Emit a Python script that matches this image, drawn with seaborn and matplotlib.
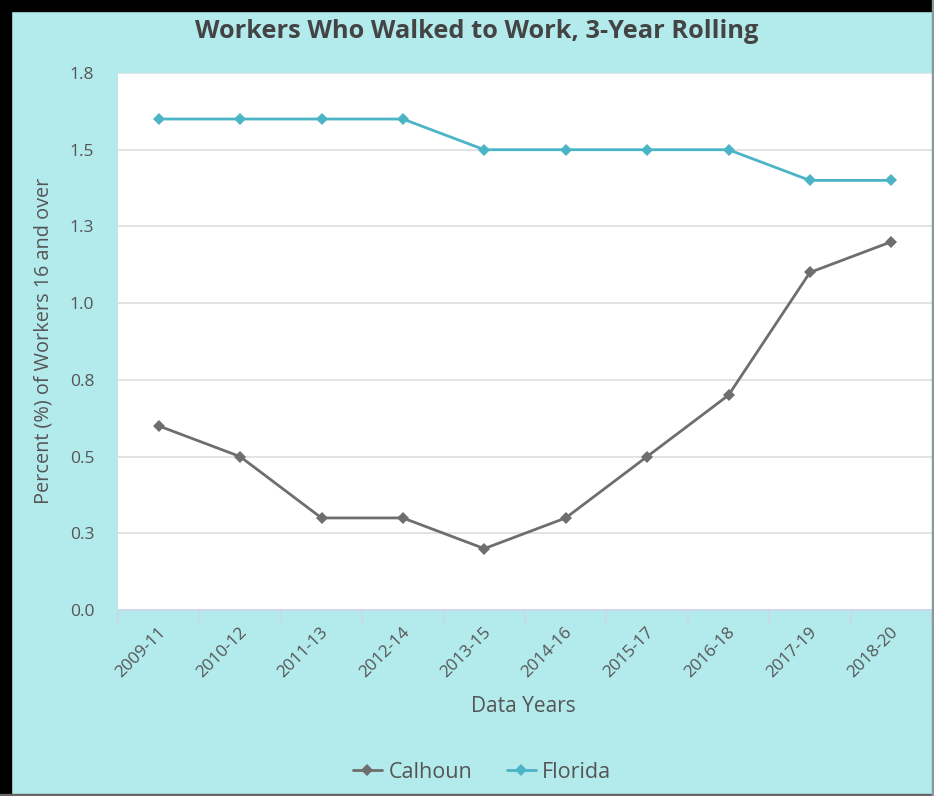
import matplotlib
matplotlib.use("Agg")
import matplotlib.pyplot as plt
from matplotlib.lines import Line2D
import seaborn as sns
import pandas as pd

# Data
years = ["2009-11", "2010-12", "2011-13", "2012-14", "2013-15",
         "2014-16", "2015-17", "2016-18", "2017-19", "2018-20"]
calhoun = [0.6, 0.5, 0.3, 0.3, 0.2, 0.3, 0.5, 0.7, 1.1, 1.2]
florida = [1.6, 1.6, 1.6, 1.6, 1.5, 1.5, 1.5, 1.5, 1.4, 1.4]
y_ticks = [0.0, 0.25, 0.5, 0.75, 1.0, 1.25, 1.5, 1.75]
y_tick_labels = ["0.0", "0.3", "0.5", "0.8", "1.0", "1.3", "1.5", "1.8"]

series_names = ["Calhoun", "Florida"]
colors = {"Calhoun": "#6e6e6e", "Florida": "#4cb4c7"}

df = pd.DataFrame({
    "pos": list(range(len(years))) * 2,
    "value": calhoun + florida,
    "area": ["Calhoun"] * len(years) + ["Florida"] * len(years),
})

sns.set_theme(style="white")
plt.rcParams["font.family"] = ["Open Sans", "DejaVu Sans"]

BG = "#b3eaec"
TXT = "#555555"

fig = plt.figure(figsize=(9.34, 7.96), dpi=100, facecolor=BG)
ax = fig.add_axes([118 / 934, 1 - 610 / 796, 814 / 934, 537 / 796])
ax.set_facecolor("white")

sns.lineplot(data=df, x="pos", y="value", hue="area", palette=colors,
             hue_order=series_names, marker="D", markersize=6.5,
             markeredgewidth=0, linewidth=2, ax=ax, legend=False)

ax.set_xlim(-0.5, len(years) - 0.5)
ax.set_ylim(0, 1.75)

# Horizontal grid lines
for t in y_ticks[1:]:
    ax.axhline(t, color="#e0e0e0", linewidth=1.3, zorder=0)

for s in ["top", "right", "left"]:
    ax.spines[s].set_visible(False)
ax.spines["bottom"].set_color("#ccd6eb")
ax.spines["bottom"].set_linewidth(1.3)

ax.set_yticks(y_ticks)
ax.set_yticklabels(y_tick_labels, fontsize=12.5, color=TXT)
ax.tick_params(axis="y", length=0, pad=17)

# Category tick marks on band boundaries, labels at band centres
ax.set_xticks([i - 0.5 for i in range(len(years) + 1)])
ax.set_xticklabels([])
ax.tick_params(axis="x", direction="out", length=10, width=1.1,
               color="#ccd6eb", bottom=True)
for i, lab in enumerate(years):
    ax.annotate(lab, xy=(i, 0), xycoords=("data", "axes fraction"),
                xytext=(-1, -10), textcoords="offset points",
                rotation=45, ha="right", va="top", rotation_mode="anchor",
                fontsize=12.3, color=TXT)

ax.set_xlabel("")
ax.set_ylabel("")

fig.text(523 / 934, 1 - 706 / 796, "Data Years", ha="center", va="center",
         fontsize=15, color=TXT)
fig.text(44 / 934, 1 - 341 / 796, "Percent (%) of Workers 16 and over",
         rotation=90, ha="center", va="center", fontsize=14.3, color=TXT)
fig.text(477 / 934, 1 - 32 / 796, "Workers Who Walked to Work, 3-Year Rolling",
         ha="center", va="center", fontsize=18.3, fontweight="bold",
         color="#444444")

handles = [Line2D([0], [0], color=colors[n], marker="D", markersize=6,
                  markeredgewidth=0, linewidth=2) for n in series_names]
fig.legend(handles, series_names, loc="center", ncol=2,
           bbox_to_anchor=(482 / 934, 1 - 772 / 796), frameon=False,
           fontsize=15.5, labelcolor=TXT, handlelength=1.35, handletextpad=0.3,
           columnspacing=1.6)

# Outer frame
fig.add_artist(plt.Rectangle((0, 0), 11 / 934, 1, transform=fig.transFigure,
                             color="black", zorder=10))
fig.add_artist(plt.Rectangle((0, 1 - 11 / 796), 1, 11 / 796,
                             transform=fig.transFigure, color="black", zorder=10))
fig.add_artist(plt.Rectangle((0, 0), 1, 2 / 796, transform=fig.transFigure,
                             color="#666666", zorder=10))
fig.add_artist(plt.Rectangle((1 - 2 / 934, 0), 2 / 934, 1,
                             transform=fig.transFigure, color="#8a9a9c", zorder=10))

fig.savefig("out.png", dpi=100, facecolor=BG)
